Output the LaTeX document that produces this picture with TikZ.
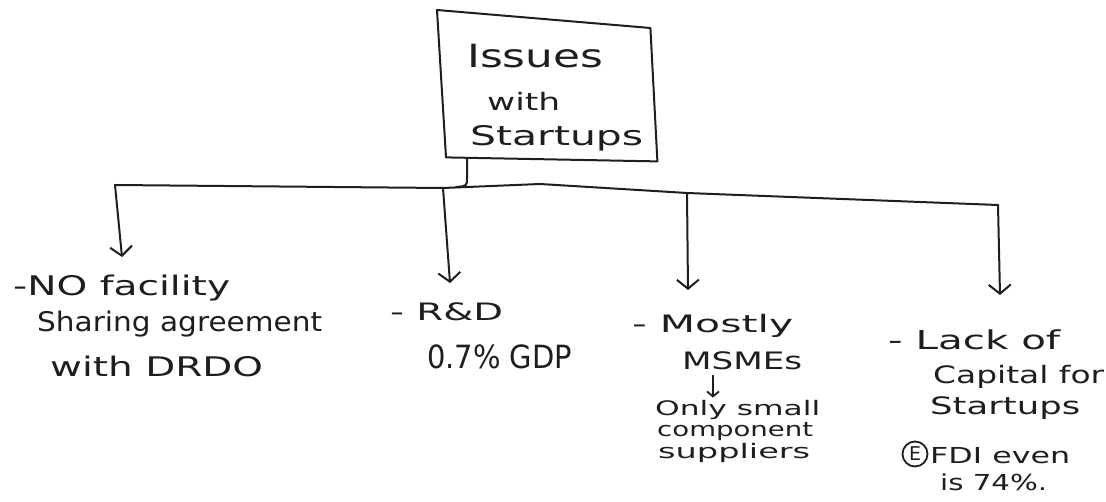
\documentclass[tikz,border=0pt]{standalone}
\usepackage{fontspec}
\setmainfont{DejaVu Sans}
\usepackage{graphicx}
\usetikzlibrary{arrows.meta,calc}
\definecolor{ink}{HTML}{1E1E1E}
% set a line of text to a given width (in pt), keeping its natural height
\newcommand{\fitw}[2]{\resizebox{#1pt}{\height}{#2}}

\begin{document}
\begin{tikzpicture}[x=1pt,y=-1pt,
  txt/.style={anchor=base west,inner sep=0pt,text=ink,font=\fontsize{#1}{#1}\selectfont},
  link/.style={line width=2pt,draw=ink,line cap=round,line join=round},
  downarrow/.style={link,-{Straight Barb[length=9pt,width=22pt]}},
  minorarrow/.style={line width=1.8pt,draw=ink,line cap=round,
    -{Straight Barb[length=5pt,width=12pt]},shorten <=5pt,shorten >=3pt}]
\useasboundingbox (0,0) rectangle (1106,502);

% heading box
\node[inner sep=0pt,minimum width=220pt,minimum height=148pt,anchor=north west] (box) at (437,10) {};
\draw[link] (box.north west) -- ($(box.north east)+(-7,18)$) -- ($(box.south east)+(0,3)$)
  -- ($(box.south west)+(9,-1)$) -- cycle;
\node[txt=32] (h1) at (467,68) {\fitw{136}{Issues}};
\node[txt=24] (h2) at (487,111) {\fitw{73}{with}};
\node[txt=27] (h3) at (470,146) {\fitw{173}{Startups}};

% stem and distribution line
\coordinate (sx) at (467,0);
\coordinate (s1) at (467,178);
\coordinate (s2) at (456,187);
\coordinate (b1) at (115,185);
\coordinate (b2) at (443,188);
\coordinate (bm) at (540,184);
\coordinate (b3) at (687,193);
\coordinate (b4) at (998,205);
\draw[link] (box.south -| sx) -- (s1) .. controls (467,186) .. (s2);
\draw[link] (b1) -- (b2) -- (bm) -- (b3) -- (b4);

% arrow ends
\coordinate (t1) at (122,257);
\coordinate (t2) at (450,283);
\coordinate (t3) at (688,290);
\coordinate (t4) at (1000,295);
\draw[downarrow] (b1) -- (t1);
\draw[downarrow] (b2) -- (t2);
\draw[downarrow] (b3) -- (t3);
\draw[downarrow] (b4) -- (t4);

% issue 1
\node[txt=27] (p1) at (13,296) {\fitw{217}{-NO facility}};
\node[txt=27] (p2) at (37,332) {\fitw{285}{Sharing agreement}};
\node[txt=27] (p3) at (50,377) {\fitw{213}{with DRDO}};

% issue 2
\node[txt=24] (r1) at (390,321) {\fitw{113}{- R\&D}};
\node[txt=32] (r2) at (427,369) {\fitw{145}{0.7\% GDP}};

% issue 3
\node[txt=24] (m1) at (632,333) {\fitw{161}{- Mostly}};
\node[txt=24] (m2) at (682,370) {\fitw{120}{MSMEs}};
\node[txt=20] (m3) at (655,416) {\fitw{165}{Only small}};
\node[txt=20] (m4) at (657,437) {\fitw{156}{component}};
\node[txt=20] (m5) at (658,459) {\fitw{152}{suppliers}};
\coordinate (mx) at (713,0);
\draw[minorarrow] (m2.south -| mx) -- (m3.north -| mx);

% issue 4
\node[txt=26] (c1) at (888,350) {\fitw{172}{- Lack of}};
\node[txt=24] (c2) at (933,384) {\fitw{171}{Capital for}};
\node[txt=24] (c3) at (930,415) {\fitw{150}{Startups}};
\node[draw=ink,line width=1.8pt,circle,minimum size=25pt,inner sep=0pt,
  text=ink,font=\fontsize{19}{19}\selectfont] (ce) at (915,454) {E};
\node[txt=22] (c4) at (930,463) {\fitw{140}{FDI even}};
\node[txt=22] (c5) at (940,490) {\fitw{107}{is 74\%.}};
\end{tikzpicture}
\end{document}
